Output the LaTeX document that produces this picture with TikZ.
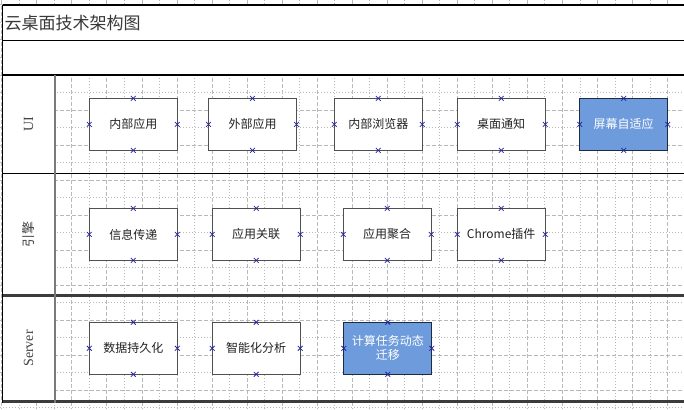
\documentclass[tikz,border=0pt]{standalone}
\usepackage{fontspec}
\setmainfont{Noto Sans CJK SC}
\newfontfamily\lanefont{Liberation Serif}
\definecolor{gridc}{HTML}{B8B8B8}
\definecolor{boxline}{HTML}{505050}
\definecolor{bluefill}{HTML}{6E9BDB}
\definecolor{blueline}{HTML}{1E2B45}
\definecolor{markc}{HTML}{2424A0}
\definecolor{txt}{HTML}{222222}
\definecolor{thickline}{HTML}{3C3C3C}
\definecolor{colline}{HTML}{7A7A7A}
\begin{document}
\begin{tikzpicture}[x=1pt,y=-1pt,
  griddash/.style={draw=gridc,line width=0.7pt,dash pattern=on 4pt off 2pt},
  griddot/.style={draw=gridc,line width=0.7pt,dash pattern=on 1pt off 2pt},
  appbox/.style={draw=boxline,line width=1.3pt,fill=white,minimum width=88pt,minimum height=52pt,inner sep=0pt,outer sep=0pt,font=\fontsize{12}{14}\selectfont,text=txt,align=center},
  hibox/.style={appbox,fill=bluefill,draw=blueline,text=white},
  cpm/.style={draw=markc,line width=0.75pt},
  lanelabel/.style={font=\lanefont\fontsize{14}{16}\selectfont,text=txt!85,rotate=90,inner sep=0pt},
  cjklane/.style={font=\fontsize{13}{15}\selectfont,text=txt!85,rotate=90,inner sep=0pt},
  tableline/.style={draw=black,line width=1.2pt},
  heavyline/.style={draw=thickline,line width=2.5pt},
  colsep/.style={draw=colline,line width=2pt}]
\useasboundingbox (0,0) rectangle (684,409);
% grid
\foreach \k in {0,...,38}{
  \pgfmathsetmacro\xx{1.7+17.52*\k}
  \ifodd\k \draw[griddot] (\xx,0) -- (\xx,409); \else \draw[griddash] (\xx,0) -- (\xx,409); \fi
}
\foreach \k in {0,...,23}{
  \pgfmathsetmacro\yy{4.8+17.52*\k}
  \ifodd\k \draw[griddot] (0,\yy) -- (684,\yy); \else \draw[griddash] (0,\yy) -- (684,\yy); \fi
}
% white areas
\fill[white] (2.7,5) rectangle (684,75);
\fill[white] (2.7,75) rectangle (54.7,401.7);
% table lines
\draw[tableline] (2.7,5) -- (684,5);
\draw[tableline] (2.7,40.7) -- (684,40.7);
\draw[tableline] (2.7,75) -- (684,75);
\draw[tableline] (2.7,173.3) -- (684,173.3);
\draw[heavyline] (2.7,295.7) -- (684,295.7);
\draw[heavyline] (2.7,401.7) -- (684,401.7);
\draw[tableline] (2.7,5) -- (2.7,402.9);
\draw[colsep] (54.7,75) -- (54.7,402.9);
% title and lane labels
\node[anchor=west,inner sep=0pt,font=\fontsize{17}{19}\selectfont,text=txt!90] (title) at (4.5,23) {云桌面技术架构图};
\node[lanelabel] (lui) at (28.5,124.4) {UI};
\node[cjklane] (leng) at (28.5,234) {引擎};
\node[lanelabel] (lsrv) at (28.5,348.5) {Server};
% UI row
\node[appbox] (u1) at (133.3,124.4) {内部应用};
\node[appbox] (u2) at (252.5,124.4) {外部应用};
\node[appbox] (u3) at (378.3,124.4) {内部浏览器};
\node[appbox] (u4) at (501.2,124.4) {桌面通知};
\node[hibox] (u5) at (623.7,124.4) {屏幕自适应};
% engine row
\node[appbox] (e1) at (133.3,234.4) {信息传递};
\node[appbox] (e2) at (256.2,234.4) {应用关联};
\node[appbox] (e3) at (387.2,234.4) {应用聚合};
\node[appbox] (e4) at (501.2,234.4) {Chrome插件};
% server row
\node[appbox] (s1) at (133.3,348.3) {数据持久化};
\node[appbox] (s2) at (256.2,348.3) {智能化分析};
\node[hibox] (s3) at (387.8,348.3) {计算任务动态\\迁移};
% connection point marks
\foreach \n in {u1,u2,u3,u4,u5,e1,e2,e3,e4,s1,s2,s3}{
  \foreach \a in {north,south,east,west}{
    \draw[cpm] ([shift={(-2.4,-2.4)}]\n.\a) -- ([shift={(2.4,2.4)}]\n.\a);
    \draw[cpm] ([shift={(-2.4,2.4)}]\n.\a) -- ([shift={(2.4,-2.4)}]\n.\a);
  }
}
\end{tikzpicture}
\end{document}
